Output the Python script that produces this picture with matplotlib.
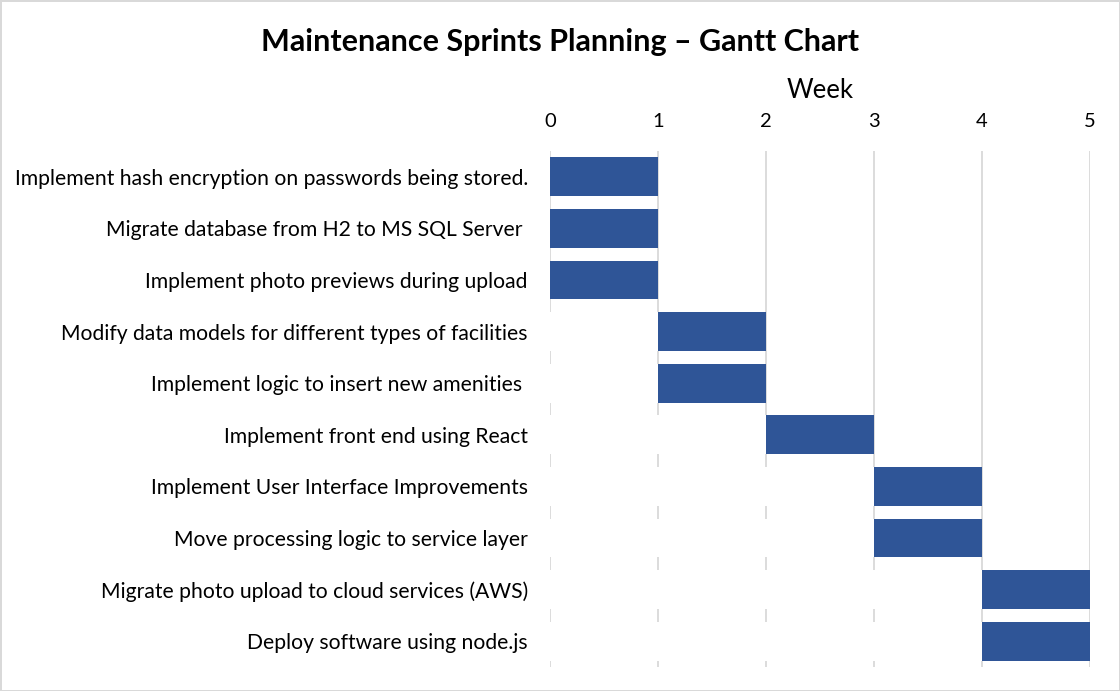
import matplotlib
matplotlib.use("Agg")
import matplotlib.pyplot as plt

# ---------- data ----------
tasks = [
    "Implement hash encryption on passwords being stored.",
    "Migrate database from H2 to MS SQL Server ",
    "Implement photo previews during upload",
    "Modify data models for different types of facilities",
    "Implement logic to insert new amenities ",
    "Implement front end using React",
    "Implement User Interface Improvements",
    "Move processing logic to service layer",
    "Migrate photo upload to cloud services (AWS)",
    "Deploy software using node.js",
]
start_week = [0, 0, 0, 1, 1, 2, 3, 3, 4, 4]
duration = [1, 1, 1, 1, 1, 1, 1, 1, 1, 1]
week_ticks = [0, 1, 2, 3, 4, 5]

bar_color = "#2F5597"
plt.rcParams['font.family'] = ['Lato', 'DejaVu Sans']

fig = plt.figure(figsize=(11.2, 6.91), dpi=100)
fig.patch.set_edgecolor("#D9D9D9")
fig.patch.set_linewidth(2)
ax = fig.add_axes([550 / 1120, 1 - 667 / 691, 540 / 1120, 516 / 691])

ypos = list(range(len(tasks)))
# invisible (white) offset series, like the Excel stacked-bar trick
ax.barh(ypos, start_week, height=0.755, color="white", zorder=2)
ax.barh(ypos, duration, left=start_week, height=0.755, color=bar_color, zorder=3)

ax.set_xlim(week_ticks[0], week_ticks[-1])
ax.set_ylim(len(tasks) - 0.5, -0.5)
ax.set_xticks(week_ticks)
ax.set_yticks(ypos)
ax.set_yticklabels(tasks, fontsize=15.2)
ax.xaxis.tick_top()
ax.xaxis.set_label_position("top")
ax.set_xlabel("Week", fontsize=18.5, labelpad=11)
ax.tick_params(axis="x", labelsize=14.5, length=0, pad=15)
ax.tick_params(axis="y", length=0, pad=16)
ax.grid(axis="x", color="#D9D9D9", linewidth=1.3, zorder=1)
ax.set_axisbelow(True)
for s in ax.spines.values():
    s.set_visible(False)

fig.suptitle("Maintenance Sprints Planning \u2013 Gantt Chart", fontsize=22,
             fontweight="bold", y=1 - 42 / 691, va="center")

fig.savefig("out.png", dpi=100)
